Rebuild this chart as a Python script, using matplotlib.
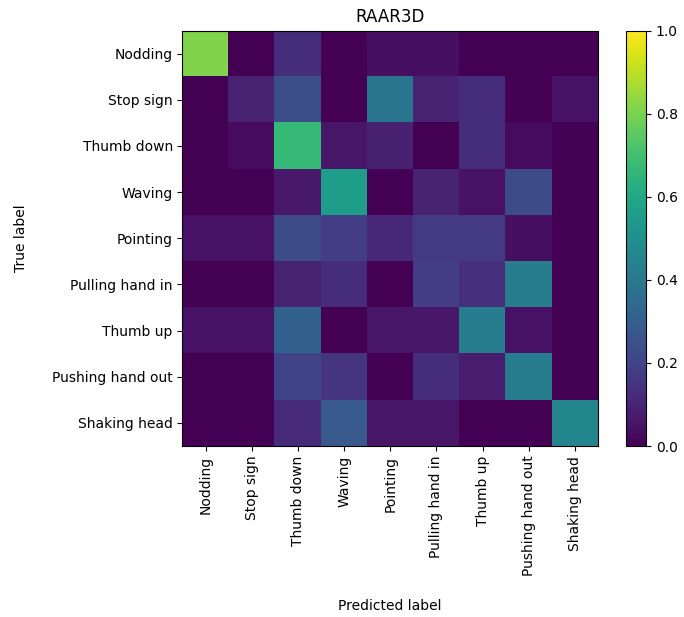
import numpy as np
import matplotlib
matplotlib.use("Agg")
import matplotlib.pyplot as plt

classes = ["Nodding", "Stop sign", "Thumb down", "Waving", "Pointing",
           "Pulling hand in", "Thumb up", "Pushing hand out", "Shaking head"]

row_nodding = [0.81, 0.00, 0.13, 0.00, 0.04, 0.04, 0.00, 0.00, 0.00]
row_stop = [0.00, 0.10, 0.24, 0.00, 0.39, 0.10, 0.13, 0.00, 0.05]
row_thumbdown = [0.00, 0.03, 0.67, 0.06, 0.09, 0.00, 0.13, 0.03, 0.00]
row_waving = [0.00, 0.00, 0.07, 0.56, 0.00, 0.10, 0.05, 0.23, 0.00]
row_pointing = [0.05, 0.05, 0.23, 0.18, 0.11, 0.17, 0.17, 0.04, 0.00]
row_pulling = [0.00, 0.00, 0.10, 0.13, 0.00, 0.18, 0.14, 0.42, 0.00]
row_thumbup = [0.05, 0.05, 0.31, 0.00, 0.06, 0.06, 0.42, 0.05, 0.00]
row_pushing = [0.00, 0.00, 0.20, 0.15, 0.00, 0.13, 0.08, 0.42, 0.00]
row_shaking = [0.00, 0.00, 0.12, 0.28, 0.06, 0.06, 0.00, 0.00, 0.46]

cm = np.array([row_nodding, row_stop, row_thumbdown, row_waving, row_pointing,
               row_pulling, row_thumbup, row_pushing, row_shaking])

W, H = 684, 617
fig = plt.figure(figsize=(W / 100, H / 100), dpi=100)
ax = fig.add_axes([182.5 / W, (H - 446) / H, 415.5 / W, 415.5 / H])
cax = fig.add_axes([626 / W, (H - 446) / H, 20 / W, 415.5 / H])

im = ax.imshow(cm, cmap="viridis", vmin=0, vmax=1, interpolation="nearest", aspect="auto")
ax.set_xticks(np.arange(len(classes)))
ax.set_yticks(np.arange(len(classes)))
ax.set_xticklabels(classes, rotation=90)
ax.set_yticklabels(classes)
ax.set_xlabel("Predicted label", labelpad=16)
ax.set_ylabel("True label", labelpad=17)
ax.set_title("RAAR3D")
cb = fig.colorbar(im, cax=cax)
cb.set_ticks([0.0, 0.2, 0.4, 0.6, 0.8, 1.0])

fig.savefig("out.png", dpi=100)
